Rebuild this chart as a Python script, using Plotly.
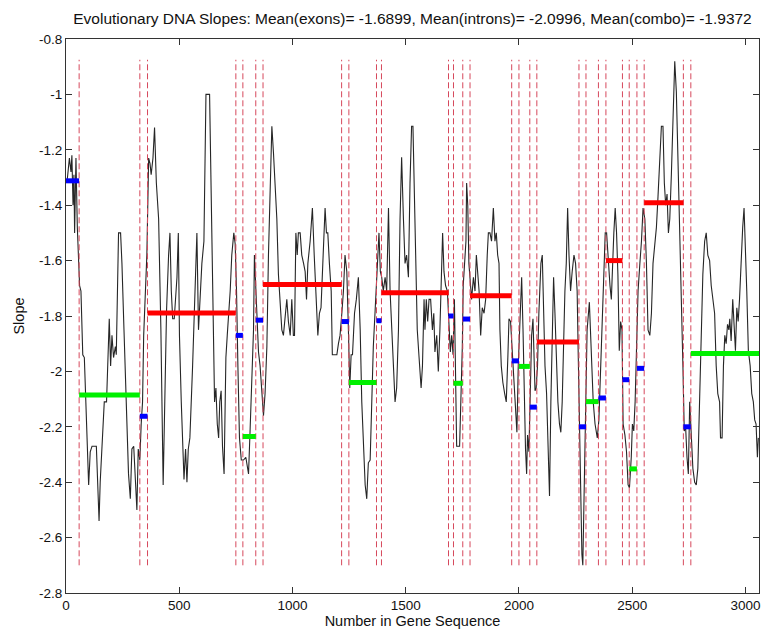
import plotly.graph_objects as go

# ---------------- data ----------------
curve_x = [4, 15, 22, 26, 31, 35, 38, 44, 50, 56, 60, 66, 74, 81, 88, 94, 100, 107, 115, 134,
           140, 146, 151, 162, 169, 179, 187, 191, 197, 203, 210, 218, 222, 232, 241, 247, 256, 265, 276, 284,
           291, 299, 306, 313, 319, 326, 332, 338, 343, 351, 357, 365, 371, 376, 384, 391, 399, 409, 419, 429,
           437, 444, 453, 459, 465, 471, 478, 484, 490, 496, 501, 509, 521, 528, 534, 540, 547, 559, 568, 578,
           585, 591, 600, 609, 618, 634, 640, 647, 656, 662, 668, 674, 679, 685, 691, 698, 706, 712, 718, 725,
           732, 741, 747, 753, 759, 766, 774, 784, 794, 806, 813, 821, 828, 832, 838, 843, 850, 857, 865, 872,
           879, 887, 894, 901, 909, 916, 924, 931, 938, 946, 953, 960, 968, 975, 982, 990, 997, 1004, 1009, 1015,
           1021, 1026, 1034, 1041, 1049, 1056, 1062, 1068, 1078, 1088, 1096, 1103, 1112, 1119, 1126, 1134, 1144, 1150, 1156, 1163,
           1171, 1176, 1196, 1203, 1210, 1218, 1225, 1232, 1240, 1247, 1253, 1259, 1265, 1274, 1282, 1291, 1299, 1306, 1315, 1321,
           1328, 1335, 1343, 1350, 1357, 1365, 1372, 1376, 1382, 1388, 1394, 1401, 1409, 1416, 1424, 1431, 1438, 1446, 1453, 1460,
           1468, 1475, 1482, 1490, 1497, 1504, 1512, 1519, 1526, 1532, 1538, 1544, 1551, 1559, 1568, 1574, 1581, 1585, 1591, 1597,
           1603, 1610, 1618, 1624, 1629, 1637, 1644, 1651, 1657, 1663, 1669, 1676, 1684, 1691, 1697, 1703, 1709, 1715, 1721, 1725,
           1738, 1744, 1750, 1754, 1760, 1766, 1769, 1774, 1779, 1785, 1791, 1799, 1806, 1812, 1818, 1824, 1831, 1838, 1846, 1853,
           1860, 1865, 1872, 1879, 1887, 1894, 1900, 1906, 1912, 1916, 1922, 1929, 1937, 1944, 1951, 1956, 1963, 1971, 1978, 1985,
           1991, 1997, 2003, 2007, 2012, 2018, 2024, 2029, 2034, 2038, 2044, 2050, 2056, 2062, 2066, 2071, 2076, 2082, 2088, 2097,
           2103, 2109, 2115, 2122, 2129, 2135, 2141, 2147, 2153, 2159, 2165, 2172, 2179, 2185, 2191, 2197, 2203, 2209, 2215, 2221,
           2228, 2235, 2243, 2250, 2257, 2262, 2268, 2273, 2278, 2282, 2288, 2294, 2301, 2311, 2321, 2328, 2336, 2346, 2353, 2361,
           2368, 2375, 2381, 2387, 2394, 2402, 2408, 2413, 2419, 2425, 2431, 2437, 2443, 2449, 2455, 2460, 2468, 2475, 2482, 2488,
           2496, 2501, 2507, 2513, 2519, 2526, 2534, 2541, 2548, 2556, 2563, 2570, 2578, 2585, 2592, 2600, 2607, 2614, 2622, 2629,
           2636, 2642, 2648, 2654, 2660, 2666, 2673, 2680, 2688, 2695, 2702, 2710, 2717, 2724, 2730, 2736, 2742, 2748, 2754, 2761,
           2768, 2776, 2783, 2790, 2798, 2805, 2812, 2820, 2827, 2834, 2842, 2849, 2856, 2864, 2871, 2878, 2886, 2890, 2897, 2903,
           2909, 2915, 2921, 2927, 2931, 2937, 2944, 2950, 2956, 2962, 2968, 2974, 2981, 2988, 2994, 3000, 3006, 3013, 3021, 3028,
           3035, 3041, 3047, 3053, 3057]
curve_y = [-1.32, -1.23, -1.28, -1.22, -1.40, -1.29, -1.50, -1.23, -1.48, -1.58, -1.69, -1.71, -1.94, -1.95, -2.11, -2.28, -2.41, -2.29, -2.27, -2.27,
           -2.41, -2.54, -2.40, -2.22, -2.11, -2.11, -1.95, -1.81, -1.98, -1.87, -1.95, -1.91, -1.94, -1.50, -1.50, -1.61, -1.85, -2.11, -2.37, -2.46,
           -2.28, -2.27, -2.37, -2.50, -2.28, -2.32, -2.19, -2.11, -1.87, -1.66, -1.58, -1.23, -1.25, -1.29, -1.23, -1.12, -1.32, -1.45, -1.85, -2.41,
           -2.11, -1.78, -1.58, -1.50, -1.71, -1.81, -1.81, -1.71, -1.66, -1.50, -1.87, -2.11, -2.39, -2.28, -2.40, -2.28, -2.24, -1.98, -1.71, -1.50,
           -1.85, -1.74, -1.61, -1.53, -1.00, -1.00, -1.32, -1.64, -2.11, -2.06, -2.19, -2.24, -2.11, -2.07, -2.27, -2.37, -1.95, -1.87, -1.81, -1.71,
           -1.58, -1.50, -1.54, -1.71, -1.98, -2.24, -2.32, -2.32, -2.31, -2.37, -2.21, -2.04, -1.85, -1.58, -1.70, -1.85, -1.93, -1.98, -2.06, -2.16,
           -2.08, -1.91, -1.58, -1.32, -1.115, -1.21, -1.32, -1.45, -1.65, -1.75, -1.85, -1.87, -1.79, -1.74, -1.82, -1.87, -1.74, -1.87, -1.87, -1.50,
           -1.58, -1.50, -1.50, -1.58, -1.61, -1.64, -1.74, -1.61, -1.53, -1.41, -1.58, -1.71, -1.87, -1.79, -1.77, -1.61, -1.41, -1.50, -1.50, -1.61,
           -1.71, -1.94, -1.94, -1.90, -1.87, -1.79, -1.71, -1.58, -1.64, -1.85, -2.06, -1.94, -1.94, -1.79, -1.74, -1.66, -1.85, -2.11, -2.28, -2.41,
           -2.46, -2.33, -2.32, -2.11, -1.91, -1.78, -1.65, -1.56, -1.50, -1.64, -1.66, -1.71, -1.66, -1.71, -1.41, -1.71, -1.85, -1.98, -2.11, -2.06,
           -1.85, -1.45, -1.227, -1.45, -1.61, -1.58, -1.66, -1.32, -1.115, -1.115, -1.32, -1.61, -1.85, -1.95, -2.06, -1.98, -1.74, -1.85, -1.74, -1.82,
           -1.74, -1.74, -1.85, -1.79, -1.93, -1.87, -2.00, -1.85, -1.64, -1.50, -1.64, -1.69, -1.71, -1.81, -1.93, -1.87, -1.94, -1.74, -1.98, -2.27,
           -2.27, -2.11, -1.91, -1.69, -1.58, -1.53, -1.32, -1.40, -1.61, -1.69, -1.74, -1.66, -1.71, -1.58, -1.64, -1.71, -1.87, -1.77, -1.79, -1.74,
           -1.58, -1.50, -1.50, -1.53, -1.41, -1.53, -1.50, -1.58, -1.61, -1.85, -1.98, -2.04, -2.08, -2.11, -1.95, -1.81, -1.82, -1.94, -2.06, -2.16,
           -2.22, -1.98, -1.85, -1.71, -1.66, -1.85, -2.11, -2.28, -2.37, -2.23, -2.29, -2.08, -1.87, -1.81, -1.95, -2.07, -2.06, -1.98, -1.79, -1.61,
           -1.58, -1.85, -1.98, -2.08, -2.24, -2.45, -2.11, -1.85, -1.66, -1.79, -1.95, -2.11, -2.19, -2.22, -2.11, -1.85, -1.71, -1.61, -1.41, -1.58,
           -1.71, -1.64, -1.58, -1.61, -1.71, -1.95, -2.24, -2.41, -2.66, -2.70, -2.44, -2.11, -1.85, -1.75, -1.98, -2.11, -2.19, -2.24, -2.175, -1.98,
           -1.79, -1.61, -1.50, -1.50, -1.61, -1.69, -1.74, -1.61, -1.50, -1.41, -1.50, -1.65, -1.925, -1.82, -1.85, -2.19, -2.23, -2.29, -2.41, -2.42,
           -2.31, -2.19, -2.215, -2.11, -1.89, -1.71, -1.61, -1.53, -1.41, -1.45, -1.61, -1.85, -1.87, -1.79, -1.61, -1.53, -1.48, -1.37, -1.25, -1.115,
           -1.115, -1.32, -1.40, -1.36, -1.50, -1.45, -1.29, -1.06, -0.88, -0.99, -1.21, -1.45, -1.71, -1.98, -2.215, -2.20, -2.31, -2.37, -2.11, -2.215,
           -2.35, -2.40, -2.41, -2.35, -2.11, -1.85, -1.65, -1.53, -1.50, -1.58, -1.60, -1.69, -1.74, -1.79, -1.98, -2.08, -2.11, -2.24, -2.24, -1.98,
           -1.87, -1.90, -1.83, -1.85, -1.81, -1.89, -1.74, -1.82, -1.925, -1.77, -1.82, -1.74, -1.58, -1.48, -1.41, -1.53, -1.71, -1.925, -1.98, -2.08,
           -2.11, -2.175, -2.19, -2.31, -2.24]

# region boundaries along the gene sequence and mean slope of each region
boundaries = [0, 58, 326, 360, 750, 781, 838, 870, 1217, 1249, 1371, 1393, 1689, 1711, 1752, 1784,
              1968, 2000, 2048, 2079, 2265, 2296, 2351, 2384, 2457, 2487, 2521, 2553, 2726, 2759, 3060]
region_mean = [-1.312, -2.085, -2.162, -1.789, -1.870, -2.235, -1.815, -1.686, -1.820, -2.040,
               -1.817, -1.716, -1.800, -2.043, -1.811, -1.727, -1.962, -1.982, -2.129, -1.894,
               -2.200, -2.109, -2.096, -1.600, -2.030, -2.352, -1.989, -1.391, -2.200, -1.935]
region_kind = ['b', 'g', 'b', 'r'] * 7 + ['b', 'g']

divider_low, divider_high = -2.70, -0.875

x_ticks = [0, 500, 1000, 1500, 2000, 2500, 3000]
y_ticks = [-0.8, -1.0, -1.2, -1.4, -1.6, -1.8, -2.0, -2.2, -2.4, -2.6, -2.8]
y_ticklabels = ['-0.8', '-1', '-1.2', '-1.4', '-1.6', '-1.8', '-2', '-2.2', '-2.4', '-2.6', '-2.8']

title_text = ("Evolutionary DNA Slopes: Mean(exons)= -1.6899, "
              "Mean(introns)= -2.0996, Mean(combo)= -1.9372")

# ---------------- figure ----------------
FONT = "Liberation Sans, Arial, Helvetica, sans-serif"
fig = go.Figure()

fig.add_trace(go.Scatter(x=curve_x, y=curve_y, mode='lines',
                         line=dict(color='#262626', width=1.1), hoverinfo='skip'))

dx, dy = [], []
for b in boundaries[1:-1]:
    dx += [b, b, None]
    dy += [divider_low, divider_high, None]
fig.add_trace(go.Scatter(x=dx, y=dy, mode='lines',
                         line=dict(color='rgb(214,72,92)', width=1, dash='6px,3px'),
                         hoverinfo='skip'))

colors = {'r': 'rgb(255,0,0)', 'g': 'rgb(0,240,0)', 'b': 'rgb(0,0,255)'}
for kind in ['r', 'g', 'b']:
    bx, by = [], []
    for i, k in enumerate(region_kind):
        if k == kind:
            bx += [boundaries[i], boundaries[i + 1], None]
            by += [region_mean[i], region_mean[i], None]
    fig.add_trace(go.Scatter(x=bx, y=by, mode='lines',
                             line=dict(color=colors[kind], width=5), hoverinfo='skip'))

axis_common = dict(showline=True, linecolor='#333333', linewidth=1, mirror='ticks',
                   ticks='inside', ticklen=6, tickcolor='#333333', showgrid=False,
                   zeroline=False, tickfont=dict(family=FONT, size=13.5, color='#111111'))

fig.update_layout(
    width=765, height=630,
    margin=dict(l=66, r=5, t=39, b=32),
    paper_bgcolor='white', plot_bgcolor='white',
    showlegend=False,
    title=dict(text=title_text, x=0.5, xref='paper', xanchor='center',
               y=1 - 19 / 630, yref='container', yanchor='middle',
               font=dict(family=FONT, size=15.5, color='#111111')),
    xaxis=dict(range=[0, 3060], tickvals=x_ticks,
               title=dict(text='Number in Gene Sequence', standoff=2,
                          font=dict(family=FONT, size=14.5, color='#111111')),
               **axis_common),
    yaxis=dict(range=[-2.8, -0.8], tickvals=y_ticks, ticktext=y_ticklabels,
               title=dict(text='Slope', standoff=10,
                          font=dict(family=FONT, size=14.5, color='#111111')),
               **axis_common),
)

fig.write_html("out.html")
